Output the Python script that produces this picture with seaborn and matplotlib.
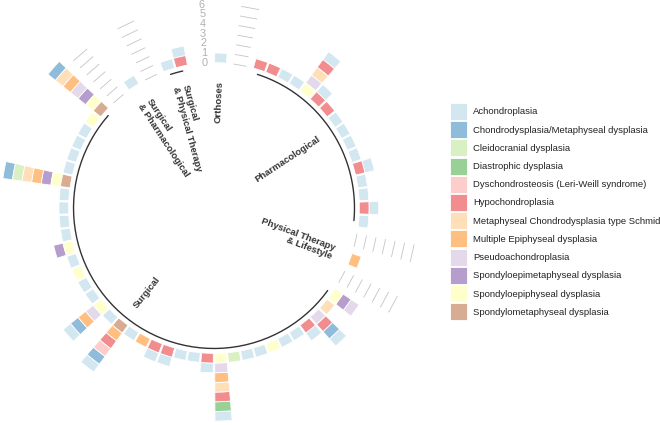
import numpy as np
import pandas as pd
import matplotlib
matplotlib.use("Agg")
import matplotlib.pyplot as plt
from matplotlib.patches import Patch
import seaborn as sns

# ---------------------------------------------------------------------------
# data: one tile = one study; each bar lists the dysplasias it contains
# ---------------------------------------------------------------------------
dysplasias = [
    "Achondroplasia",
    "Chondrodysplasia/Metaphyseal dysplasia",
    "Cleidocranial dysplasia",
    "Diastrophic dysplasia",
    "Dyschondrosteosis (Leri-Weill syndrome)",
    "Hypochondroplasia",
    "Metaphyseal Chondrodysplasia type Schmid",
    "Multiple Epiphyseal dysplasia",
    "Pseudoachondroplasia",
    "Spondyloepimetaphyseal dysplasia",
    "Spondyloepiphyseal dysplasia",
    "Spondylometaphyseal dysplasia",
]
codes = ["A", "C", "Cl", "D", "Dy", "H", "M", "ME", "P", "SEM", "SE", "SM"]

groups = [
    "Orthoses",
    "Pharmacological",
    "Physical Therapy\n& Lifestyle",
    "Surgical",
    "Surgical\n& Pharmacological",
    "Surgical\n& Physical Therapy",
]

orthoses = ["A"]
pharmacological = ["H", "H", "A", "A", "SE P M H A", "H A", "H", "A", "A", "A",
                   "A", "H A", "A", "A", "H A", "A"]
physical_lifestyle = ["ME"]
surgical = ["SE SEM P", "M", "P H C A", "H A", "A", "A", "SE", "A", "A", "Cl",
            "SE P ME M H D A", "H A", "A", "A", "H A", "H A", "ME", "A",
            "SM ME H Dy C A", "A", "SE P ME C A", "A", "A", "SE", "A", "SE SEM",
            "A", "A", "A", "A", "SM SE SEM ME M Cl C", "A", "A", "A", "A", "SE",
            "SM SE SEM P ME M C"]
surgical_pharm = ["A"]
surgical_pt = ["A", "H A"]

grid_values = [0, 1, 2, 3, 4, 5, 6]
empty_bar = 2

# ---------------------------------------------------------------------------
# build long table (ids with empty bars after each group, like the R gallery)
# ---------------------------------------------------------------------------
rows = []
base = []
bar_id = 0
for name, bars in zip(groups, [orthoses, pharmacological, physical_lifestyle,
                               surgical, surgical_pharm, surgical_pt]):
    start = bar_id + 1
    for b in bars:
        bar_id += 1
        for c in b.split():
            rows.append((name, bar_id, c, codes.index(c)))
    base.append((name, start, bar_id))
    bar_id += empty_bar
n_pos = bar_id

tiles = pd.DataFrame(rows, columns=["group", "id", "code", "level"])
# first level ends up outermost (ggplot stacking)
tiles = tiles.sort_values(["id", "level"], ascending=[True, False])
tiles["bottom"] = tiles.groupby("id").cumcount()

step = 2 * np.pi / n_pos


def theta(p):
    return (np.asarray(p, dtype=float) - 0.5) * step


# ---------------------------------------------------------------------------
# plot
# ---------------------------------------------------------------------------
sns.set_theme(style="white")
plt.rcParams["font.family"] = ["Liberation Sans", "DejaVu Sans"]

palette = sns.color_palette("Paired", 12)
colors = [tuple(0.5 * np.array(c) + 0.5) for c in palette]  # alpha 0.5 on white

fig = plt.figure(figsize=(6.6, 4.25), dpi=100)
R = 218
cx, cy = 214, 208
ax = fig.add_axes([(cx - R) / 660, (425 - cy - R) / 425, 2 * R / 660, 2 * R / 425],
                  projection="polar")
ax.set_theta_zero_location("N")
ax.set_theta_direction(-1)
ax.set_ylim(-15, 7.5)
ax.axis("off")

for lvl, col in enumerate(colors):
    sub = tiles[tiles["level"] == lvl]
    if len(sub):
        ax.bar(theta(sub["id"]), 1, width=0.9 * step, bottom=sub["bottom"],
               color=col, edgecolor="white", linewidth=0.6, align="center")

# grid segments in the gaps between groups
for prev, nxt in zip(base[:-1], base[1:]):
    t0, t1 = theta(prev[2] + 1), theta(nxt[1] - 1)
    for v in grid_values:
        ax.plot([t0, t1], [v, v], color="#C4C4C4", lw=0.6, solid_capstyle="butt")

# scale labels in the last gap
for v in grid_values:
    ax.text(theta(n_pos), v, str(v), ha="right", va="center", color="#B0B0B0",
            fontsize=7.8)

# group baselines and names
for name, start, end in base:
    tt = np.linspace(theta(start), theta(end), 60)
    ax.plot(tt, np.full_like(tt, -0.5), color="black", alpha=0.8, lw=1.0)
    mid = (start + end) / 2
    ang = 90 - 360 * (mid - 0.5) / n_pos
    if ang < -90:
        ang += 180
        ha = "left"
    else:
        ha = "right"
    ax.text(theta(mid), -1.9, name, rotation=ang, rotation_mode="anchor",
            ha=ha, va="center", fontsize=6.8, fontweight="bold", color="#333333",
            linespacing=1.1)

handles = [Patch(facecolor=c, edgecolor="white", linewidth=0.6) for c in colors]
fig.legend(handles, dysplasias, loc="upper left", bbox_to_anchor=(450 / 660, 1 - 103 / 425),
           frameon=False, fontsize=6.8, handlelength=1.8, handleheight=2.39,
           handletextpad=0.65, labelspacing=0.13, borderpad=0, borderaxespad=0,
           labelcolor="#222222")

fig.savefig("out.png", dpi=100)
